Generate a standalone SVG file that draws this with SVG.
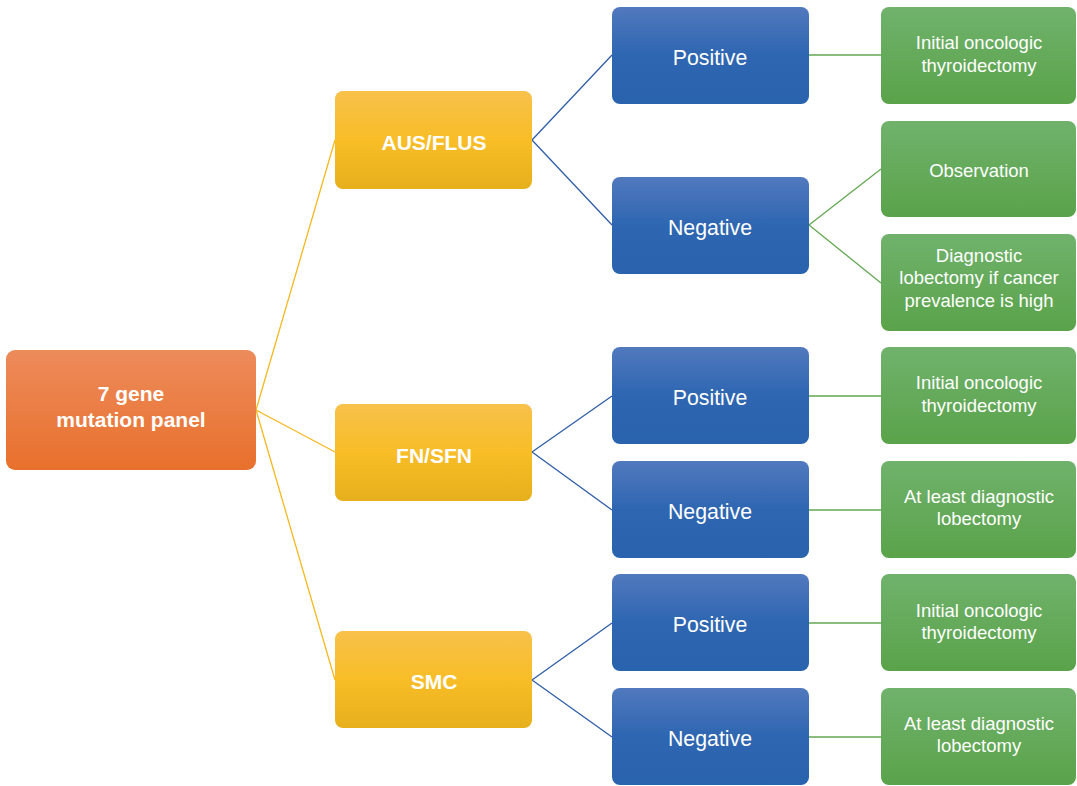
<svg xmlns="http://www.w3.org/2000/svg" width="1077" height="786" viewBox="0 0 1077 786">
<defs>
<linearGradient id="gO" x1="0" y1="0" x2="0" y2="1"><stop offset="0" stop-color="#ed8b5b"/><stop offset="1" stop-color="#e8702c"/></linearGradient>
<linearGradient id="gY" x1="0" y1="0" x2="0" y2="1"><stop offset="0" stop-color="#f8c14b"/><stop offset="0.5" stop-color="#f8bd27"/><stop offset="1" stop-color="#e6b01c"/></linearGradient>
<linearGradient id="gB" x1="0" y1="0" x2="0" y2="1"><stop offset="0" stop-color="#5179be"/><stop offset="0.5" stop-color="#2e66b1"/><stop offset="1" stop-color="#2a63ad"/></linearGradient>
<linearGradient id="gG" x1="0" y1="0" x2="0" y2="1"><stop offset="0" stop-color="#70b26c"/><stop offset="1" stop-color="#5aa34a"/></linearGradient>
</defs>
<style>
text{font-family:"Liberation Sans",Arial,sans-serif;fill:#fff;text-anchor:middle}
.b{font-weight:bold;font-size:21px}
.m{font-size:21.3px}
.s{font-size:18.5px}
.y{stroke:#f5b820;stroke-width:1.3;fill:none}
.bl{stroke:#2e5ea8;stroke-width:1.3;fill:none}
.gr{stroke:#62a853;stroke-width:1.3;fill:none}
</style>
<g id="connectors">
<path class="y" d="M256 410L335 140M256 410L335 452M256 410L335 680"/>
<path class="bl" d="M532 140L612 55M532 140L612 225M532 452L612 396M532 452L612 510M532 680L612 623M532 680L612 737"/>
<path class="gr" d="M809 55L881 55M809 225L881 169M809 225L881 283M809 396L881 396M809 510L881 510M809 623L881 623M809 737L881 737"/>
</g>
<g id="root"><rect x="6" y="350" width="250" height="120" rx="9" fill="url(#gO)"/><text class="b" x="131" y="401">7 gene</text><text class="b" x="131" y="427">mutation panel</text></g>
<g id="aus"><rect x="335" y="91" width="197" height="98" rx="8" fill="url(#gY)"/><text class="b" x="434" y="150">AUS/FLUS</text></g>
<g id="fn"><rect x="335" y="404" width="197" height="97" rx="8" fill="url(#gY)"/><text class="b" x="434" y="463">FN/SFN</text></g>
<g id="smc"><rect x="335" y="631" width="197" height="97" rx="8" fill="url(#gY)"/><text class="b" x="434" y="689">SMC</text></g>
<g id="pos1"><rect x="612" y="7" width="197" height="97" rx="8" fill="url(#gB)"/><text class="m" x="710" y="65">Positive</text></g>
<g id="neg1"><rect x="612" y="177" width="197" height="97" rx="8" fill="url(#gB)"/><text class="m" x="710" y="235">Negative</text></g>
<g id="pos2"><rect x="612" y="347" width="197" height="97" rx="8" fill="url(#gB)"/><text class="m" x="710" y="405">Positive</text></g>
<g id="neg2"><rect x="612" y="461" width="197" height="97" rx="8" fill="url(#gB)"/><text class="m" x="710" y="519">Negative</text></g>
<g id="pos3"><rect x="612" y="574" width="197" height="97" rx="8" fill="url(#gB)"/><text class="m" x="710" y="632">Positive</text></g>
<g id="neg3"><rect x="612" y="688" width="197" height="97" rx="8" fill="url(#gB)"/><text class="m" x="710" y="746">Negative</text></g>
<g id="out1"><rect x="881" y="7" width="195" height="97" rx="8" fill="url(#gG)"/><text class="s" x="979" y="49">Initial oncologic</text><text class="s" x="979" y="72">thyroidectomy</text></g>
<g id="out2"><rect x="881" y="121" width="195" height="96" rx="8" fill="url(#gG)"/><text class="s" x="979" y="177">Observation</text></g>
<g id="out3"><rect x="881" y="234" width="195" height="97" rx="8" fill="url(#gG)"/><text class="s" x="979" y="262">Diagnostic</text><text class="s" x="979" y="284">lobectomy if cancer</text><text class="s" x="979" y="307">prevalence is high</text></g>
<g id="out4"><rect x="881" y="347" width="195" height="97" rx="8" fill="url(#gG)"/><text class="s" x="979" y="389">Initial oncologic</text><text class="s" x="979" y="412">thyroidectomy</text></g>
<g id="out5"><rect x="881" y="461" width="195" height="97" rx="8" fill="url(#gG)"/><text class="s" x="979" y="503">At least diagnostic</text><text class="s" x="979" y="525">lobectomy</text></g>
<g id="out6"><rect x="881" y="574" width="195" height="97" rx="8" fill="url(#gG)"/><text class="s" x="979" y="617">Initial oncologic</text><text class="s" x="979" y="639">thyroidectomy</text></g>
<g id="out7"><rect x="881" y="688" width="195" height="97" rx="8" fill="url(#gG)"/><text class="s" x="979" y="730">At least diagnostic</text><text class="s" x="979" y="752">lobectomy</text></g>
</svg>
